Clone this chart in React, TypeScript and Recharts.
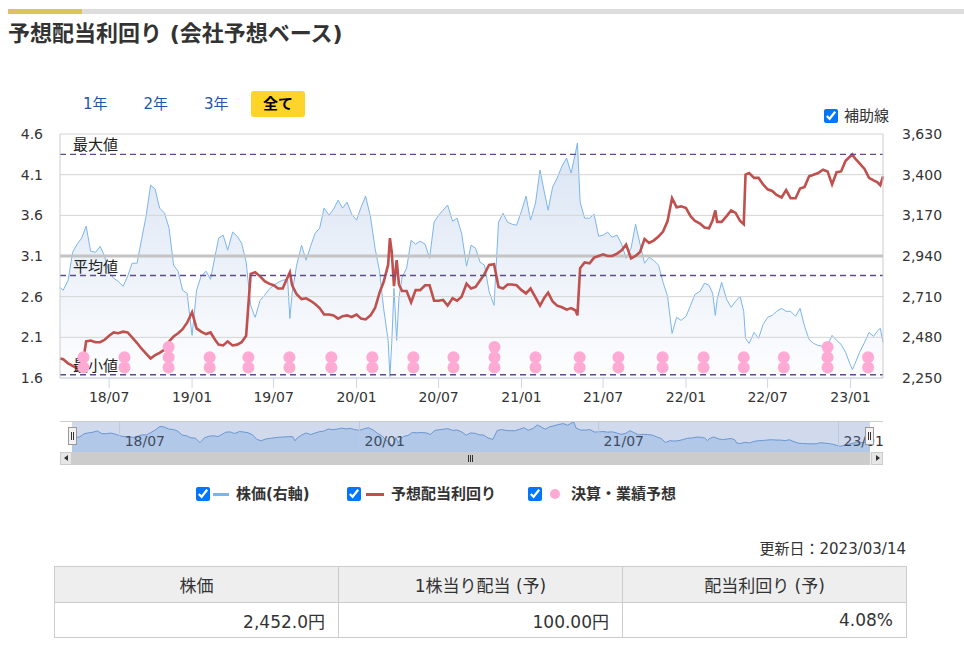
import React from "react";
import {
  ComposedChart,
  AreaChart,
  Area,
  Line,
  Scatter,
  XAxis,
  YAxis,
  ReferenceLine,
} from "recharts";

const dates = [
  "2018-03-14", "2018-03-21", "2018-04-01", "2018-04-11", "2018-04-21", "2018-05-01", "2018-05-11", "2018-05-21",
  "2018-06-01", "2018-06-11", "2018-06-21", "2018-07-01", "2018-07-11", "2018-07-21", "2018-08-01", "2018-08-11",
  "2018-08-21", "2018-09-01", "2018-09-11", "2018-09-21", "2018-10-01", "2018-10-11", "2018-10-21", "2018-11-01",
  "2018-11-11", "2018-11-21", "2018-12-01", "2018-12-11", "2018-12-21",
  "2019-01-01", "2019-01-11", "2019-01-21", "2019-02-01", "2019-02-11", "2019-02-21", "2019-03-01", "2019-03-11",
  "2019-03-21", "2019-04-01", "2019-04-11", "2019-04-21", "2019-05-01", "2019-05-11", "2019-05-21", "2019-06-01",
  "2019-06-11", "2019-06-21", "2019-07-01", "2019-07-11", "2019-07-21", "2019-08-01", "2019-08-06", "2019-08-11",
  "2019-08-21", "2019-09-01", "2019-09-11", "2019-09-21", "2019-10-01", "2019-10-11", "2019-10-21", "2019-11-01",
  "2019-11-11", "2019-11-21", "2019-12-01", "2019-12-11", "2019-12-21",
  "2020-01-01", "2020-01-11", "2020-01-21", "2020-02-01", "2020-02-11", "2020-02-21", "2020-03-01", "2020-03-11",
  "2020-03-15", "2020-03-19", "2020-03-24", "2020-03-30", "2020-04-04", "2020-04-11", "2020-04-21", "2020-05-01",
  "2020-05-11", "2020-05-21", "2020-06-01", "2020-06-11", "2020-06-21", "2020-07-01", "2020-07-11", "2020-07-21",
  "2020-08-01", "2020-08-11", "2020-08-21", "2020-09-01", "2020-09-11", "2020-09-21", "2020-10-01", "2020-10-11",
  "2020-10-21", "2020-11-01", "2020-11-11", "2020-11-21", "2020-12-01", "2020-12-11", "2020-12-21",
  "2021-01-01", "2021-01-11", "2021-01-21", "2021-02-01", "2021-02-11", "2021-02-21", "2021-03-01", "2021-03-11",
  "2021-03-21", "2021-04-01", "2021-04-11", "2021-04-21", "2021-05-01", "2021-05-05", "2021-05-11", "2021-05-21",
  "2021-06-01", "2021-06-11", "2021-06-21", "2021-07-01", "2021-07-11", "2021-07-21", "2021-08-01", "2021-08-11",
  "2021-08-21", "2021-09-01", "2021-09-11", "2021-09-21", "2021-10-01", "2021-10-11", "2021-10-21", "2021-11-01",
  "2021-11-11", "2021-11-21", "2021-12-01", "2021-12-11", "2021-12-21",
  "2022-01-01", "2022-01-11", "2022-01-21", "2022-02-01", "2022-02-11", "2022-02-21", "2022-03-01", "2022-03-07",
  "2022-03-11", "2022-03-21", "2022-04-01", "2022-04-11", "2022-04-21", "2022-05-01", "2022-05-09", "2022-05-13",
  "2022-05-21", "2022-06-01", "2022-06-11", "2022-06-21", "2022-07-01", "2022-07-11", "2022-07-21", "2022-08-01",
  "2022-08-11", "2022-08-21", "2022-09-01", "2022-09-11", "2022-09-21", "2022-10-01", "2022-10-11", "2022-10-21",
  "2022-11-01", "2022-11-11", "2022-11-21", "2022-12-01", "2022-12-11", "2022-12-21",
  "2023-01-01", "2023-01-05", "2023-01-11", "2023-01-21", "2023-02-01", "2023-02-11", "2023-02-21", "2023-03-01",
  "2023-03-08", "2023-03-14",
];

// 株価 (right axis, yen)
const price = [
  2763, 2746, 2803, 2961, 3007, 3041, 3109, 2967, 2961, 2995, 2939, 2848, 2814, 2797, 2769, 2825,
  2899, 2899, 3035, 3165, 3341, 3318, 3211, 3182, 3097, 2888, 2854, 2746, 2729,
  2491, 2746, 2825, 2854, 2808, 2939, 3041, 3058, 2973, 3075, 3052, 3012, 2905, 2661, 2593, 2689,
  2718, 2752, 2774, 2791, 2803, 2808, 2587, 2729, 2888, 3001, 2916, 2995, 3069, 3097, 3211, 3171,
  3205, 3256, 3211, 3245, 3177,
  3143, 3216, 3279, 3160, 2984, 2854, 2644, 2463, 2259, 2446, 2757, 2463, 2701, 2820, 2871, 3029,
  3007, 3024, 3007, 2927, 3131, 3171, 3199, 3228, 3137, 3154, 3069, 2882, 3001, 2984, 2905, 2888,
  2740, 2661, 3131, 3182, 3131, 3120, 3114,
  3194, 3279, 3143, 3239, 3426, 3296, 3199, 3330, 3381, 3449, 3494, 3409, 3528, 3579, 3245, 3154,
  3154, 3177, 3052, 3058, 3075, 3046, 3058, 3007, 2927, 2984, 3120, 3007, 2899, 2933, 2916, 2888,
  2791, 2712, 2502, 2593, 2576,
  2599, 2661, 2723, 2740, 2786, 2774, 2729, 2604, 2695, 2791, 2695, 2650, 2684, 2712, 2627, 2474,
  2446, 2508, 2474, 2553, 2593, 2604, 2627, 2644, 2627, 2627, 2599, 2644, 2542, 2468, 2446, 2434,
  2429, 2434, 2491, 2463, 2440, 2395,
  2321, 2298, 2332, 2395, 2451, 2508, 2485, 2514, 2531, 2452,
];

// 予想配当利回り (left axis, %)
const yieldPct = [
  1.84, 1.83, 1.78, 1.75, 1.72, 1.69, 2.05, 2.06, 2.04, 2.04, 2.07, 2.12, 2.16, 2.15, 2.17, 2.16,
  2.10, 2.03, 1.96, 1.90, 1.84, 1.88, 1.91, 1.95, 2.05, 2.11, 2.15, 2.20, 2.28,
  2.41, 2.21, 2.17, 2.14, 2.16, 2.07, 2.01, 2.00, 2.05, 2.00, 2.01, 2.04, 2.12, 2.88, 2.90, 2.85,
  2.79, 2.76, 2.74, 2.70, 2.70, 2.84, 2.90, 2.74, 2.63, 2.57, 2.58, 2.55, 2.51, 2.46, 2.38, 2.38,
  2.37, 2.33, 2.36, 2.37, 2.35,
  2.38, 2.33, 2.32, 2.37, 2.46, 2.65, 2.78, 2.99, 3.32, 3.15, 2.73, 3.05, 2.75, 2.67, 2.67, 2.53,
  2.68, 2.68, 2.74, 2.74, 2.55, 2.55, 2.56, 2.49, 2.58, 2.55, 2.60, 2.76, 2.70, 2.72, 2.80, 2.88,
  2.99, 3.00, 2.72, 2.70, 2.75, 2.75, 2.74,
  2.68, 2.64, 2.70, 2.59, 2.49, 2.59, 2.65, 2.54, 2.49, 2.47, 2.44, 2.46, 2.43, 2.37, 2.95, 3.02,
  3.01, 3.08, 3.10, 3.12, 3.10, 3.10, 3.13, 3.17, 3.24, 3.07, 3.10, 3.15, 3.31, 3.26, 3.29, 3.34,
  3.40, 3.53, 3.81, 3.70, 3.71,
  3.69, 3.59, 3.53, 3.50, 3.45, 3.44, 3.54, 3.66, 3.52, 3.52, 3.59, 3.66, 3.63, 3.53, 3.49, 4.10,
  4.12, 4.06, 4.06, 3.98, 3.92, 3.90, 3.85, 3.82, 3.91, 3.81, 3.81, 3.93, 3.95, 4.08, 4.10, 4.12,
  4.16, 4.14, 3.98, 4.13, 4.14, 4.27,
  4.33, 4.35, 4.30, 4.24, 4.17, 4.06, 4.03, 4.01, 3.97, 4.08,
];

// 決算・業績予想 events: date and number of stacked markers
const eventDates = [
  "2018-05-05", "2018-08-04", "2018-11-10", "2019-02-09", "2019-05-06", "2019-08-05", "2019-11-06",
  "2020-02-05", "2020-05-06", "2020-08-03", "2020-11-02", "2021-02-01", "2021-05-10", "2021-08-04",
  "2021-11-10", "2022-02-09", "2022-05-09", "2022-08-06", "2022-11-11", "2023-02-09",
];
const eventCounts = [2, 2, 3, 2, 2, 2, 2, 2, 2, 2, 3, 2, 2, 2, 2, 2, 2, 2, 3, 2];

// 補助線 levels (yield %)
const yieldMax = 4.35;
const yieldAvg = 2.86;
const yieldMin = 1.64;

const yieldTicks = [1.6, 2.1, 2.6, 3.1, 3.6, 4.1, 4.6];
const priceTicks = [2250, 2480, 2710, 2940, 3170, 3400, 3630];
const xTickDates = [
  "2018-07-01", "2019-01-01", "2019-07-01", "2020-01-01", "2020-07-01",
  "2021-01-01", "2021-07-01", "2022-01-01", "2022-07-01", "2023-01-01",
];
const xTickLabels = ["18/07", "19/01", "19/07", "20/01", "20/07", "21/01", "21/07", "22/01", "22/07", "23/01"];
const navTickDates = ["2018-07-01", "2020-01-01", "2021-07-01", "2023-01-01"];
const navTickLabels = ["18/07", "20/01", "21/07", "23/01"];

const rangeButtons = ["1年", "2年", "3年", "全て"];
const tableHeaders = ["株価", "1株当り配当 (予)", "配当利回り (予)"];
const tableValues = ["2,452.0円", "100.00円", "4.08%"];

const toTs = (d: string) => new Date(d + "T00:00:00Z").getTime();
const START = toTs("2018-03-14");
const END = toTs("2023-03-14");
const xTicks = xTickDates.map(toTs);
const navTicks = navTickDates.map(toTs);

const chartData = dates.map((d, i) => ({ t: toTs(d), price: price[i], yld: yieldPct[i] }));

// stacked marker rows near the bottom of the plot
const EVENT_ROWS = [1.73, 1.855, 1.98];
const eventData = eventDates.flatMap((d, i) =>
  Array.from({ length: eventCounts[i] }, (_, k) => ({ t: toTs(d), y: EVENT_ROWS[k] }))
);

const FONT = "'DejaVu Sans', 'Noto Sans CJK JP', sans-serif";
const CJK = "'Noto Sans CJK JP', sans-serif";
const RED = "#c0504d";
const BLUE = "#7cb5ec";
const PINK = "#ffaad5";

function LevelLabel(props: any) {
  const vb = props.viewBox || { x: 0, y: 0 };
  return (
    <text x={vb.x + 13} y={vb.y - 4} fill="#222" fontSize={15} fontFamily={CJK}>
      {props.text}
    </text>
  );
}

function NavLabel(props: any) {
  const vb = props.viewBox || { x: 0, y: 0 };
  return (
    <text x={vb.x + 5} y={vb.y + 25} fill="#333" fontSize={14} fontFamily={FONT}>
      {props.text}
    </text>
  );
}

const abs = (s: React.CSSProperties): React.CSSProperties => ({ position: "absolute", ...s });

export default function App() {
  return (
    <div
      style={abs({
        left: 0,
        top: 0,
        width: 964,
        height: 646,
        overflow: "hidden",
        background: "#fff",
        fontFamily: FONT,
        color: "#333",
      })}
    >
      {/* header bar + title */}
      <div style={abs({ left: 8, top: 9, width: 956, height: 5, background: "#dddddd" })} />
      <div style={abs({ left: 8, top: 9, width: 74, height: 5, background: "#e0c25c" })} />
      <div style={abs({ left: 8, top: 19, fontSize: 22, lineHeight: "30px", fontWeight: 700, color: "#333" })}>
        予想配当利回り (会社予想ベース)
      </div>

      {/* range buttons */}
      {rangeButtons.map((b, i) =>
        i < 3 ? (
          <div
            key={b}
            style={abs({ left: 83 + i * 60.5, top: 91, fontSize: 15, lineHeight: "26px", color: "#2356a8" })}
          >
            {b}
          </div>
        ) : (
          <div
            key={b}
            style={abs({
              left: 251,
              top: 91,
              width: 54,
              height: 26,
              borderRadius: 3,
              background: "#ffd42a",
              fontSize: 15,
              lineHeight: "26px",
              textAlign: "center",
              fontWeight: 700,
              color: "#000",
            })}
          >
            {b}
          </div>
        )
      )}

      {/* 補助線 */}
      <input type="checkbox" checked readOnly style={abs({ left: 824, top: 109, width: 14, height: 14, margin: 0 })} />
      <div style={abs({ left: 844, top: 106, fontSize: 15, lineHeight: "20px", color: "#333" })}>補助線</div>

      {/* main chart */}
      <div style={abs({ left: 0, top: 120 })}>
        <ComposedChart width={964} height={290} data={chartData} margin={{ top: 14, right: 0, bottom: 0, left: 0 }}>
          <defs>
            <linearGradient id="priceFill" x1="0" y1="0" x2="0" y2="1">
              <stop offset="0%" stopColor="#8eaedc" stopOpacity={0.55} />
              <stop offset="100%" stopColor="#8eaedc" stopOpacity={0.03} />
            </linearGradient>
          </defs>
          <XAxis
            dataKey="t"
            type="number"
            domain={[START, END]}
            ticks={xTicks}
            interval={0}
            tickFormatter={(v: number) => xTickLabels[xTicks.indexOf(v)] ?? ""}
            height={32}
            tickSize={10}
            tickMargin={4}
            axisLine={{ stroke: "#ccd6eb" }}
            tickLine={{ stroke: "#ccd6eb" }}
            tick={{ fill: "#333", fontSize: 14, fontFamily: FONT }}
          />
          <YAxis
            yAxisId="left"
            domain={[1.6, 4.6]}
            ticks={yieldTicks}
            interval={0}
            allowDataOverflow
            width={60}
            tickSize={0}
            tickMargin={17}
            axisLine={{ stroke: "#cccccc" }}
            tickFormatter={(v: number) => v.toFixed(1)}
            tick={{ fill: "#333", fontSize: 14, fontFamily: FONT }}
          />
          <YAxis
            yAxisId="right"
            orientation="right"
            domain={[2250, 3630]}
            ticks={priceTicks}
            interval={0}
            allowDataOverflow
            width={81}
            tickSize={0}
            tickMargin={19}
            axisLine={{ stroke: "#cccccc" }}
            tickFormatter={(v: number) => v.toLocaleString("en-US")}
            tick={{ fill: "#333", fontSize: 14, fontFamily: FONT }}
          />
          {yieldTicks.map((v) => (
            <ReferenceLine
              key={v}
              yAxisId="left"
              y={v}
              stroke={v === 3.1 ? "#c4c4c4" : "#d4d4d4"}
              strokeWidth={v === 3.1 ? 3 : 1}
            />
          ))}
          <Area
            yAxisId="right"
            dataKey="price"
            type="linear"
            stroke={BLUE}
            strokeWidth={1}
            fill="url(#priceFill)"
            dot={false}
            activeDot={false}
            isAnimationActive={false}
          />
          <Line
            yAxisId="left"
            dataKey="yld"
            type="linear"
            stroke={RED}
            strokeWidth={2.6}
            dot={false}
            activeDot={false}
            isAnimationActive={false}
          />
          <ReferenceLine yAxisId="left" y={yieldMax} stroke="#5f4b8b" strokeWidth={1.4} strokeDasharray="6 4" label={<LevelLabel text="最大値" />} />
          <ReferenceLine yAxisId="left" y={yieldAvg} stroke="#5f4b8b" strokeWidth={1.4} strokeDasharray="6 4" label={<LevelLabel text="平均値" />} />
          <ReferenceLine yAxisId="left" y={yieldMin} stroke="#5f4b8b" strokeWidth={1.4} strokeDasharray="6 4" />
          <Scatter
            yAxisId="left"
            data={eventData}
            dataKey="y"
            fill={PINK}
            isAnimationActive={false}
            shape={(p: any) => <circle cx={p.cx} cy={p.cy} r={6} fill={PINK} />}
          />
          <ReferenceLine yAxisId="left" y={yieldMin} stroke="none" label={<LevelLabel text="最小値" />} />
        </ComposedChart>
      </div>

      {/* navigator (svg made wider than its plot so the last label is not clipped) */}
      <div style={abs({ left: 72, top: 421 })}>
        <AreaChart width={820} height={31} data={chartData} margin={{ top: 0, right: 22, bottom: 0, left: 0 }}>
          <XAxis dataKey="t" type="number" domain={[START, END]} hide />
          <YAxis domain={[2000, 3630]} hide allowDataOverflow />
          {navTicks.map((t, i) => (
            <ReferenceLine key={t} x={t} stroke="#dfe5ee" label={<NavLabel text={navTickLabels[i]} />} />
          ))}
          <Area
            dataKey="price"
            type="linear"
            stroke="#6d9fd9"
            strokeWidth={1}
            fill={BLUE}
            fillOpacity={0.35}
            dot={false}
            activeDot={false}
            isAnimationActive={false}
          />
        </AreaChart>
      </div>
      <div style={abs({ left: 72, top: 421, width: 798, height: 31, background: "rgba(102,133,194,0.3)" })} />
      <div style={abs({ left: 60, top: 421, width: 823, height: 1, background: "#cccccc" })} />
      {[68, 865].map((x) => (
        <div
          key={x}
          style={abs({
            left: x,
            top: 427,
            width: 7,
            height: 16,
            background: "#f2f2f2",
            border: "1px solid #999",
          })}
        >
          <div style={abs({ left: 2, top: 4, width: 1, height: 8, background: "#333" })} />
          <div style={abs({ left: 4, top: 4, width: 1, height: 8, background: "#333" })} />
        </div>
      ))}

      {/* scrollbar */}
      <div style={abs({ left: 60, top: 452, width: 823, height: 13, background: "#f2f2f2" })} />
      <div style={abs({ left: 72, top: 452, width: 798, height: 13, background: "#cccccc" })} />
      <div style={abs({ left: 60, top: 452, width: 12, height: 13, background: "#e6e6e6", boxSizing: "border-box", border: "1px solid #cccccc" })} />
      <div style={abs({ left: 871, top: 452, width: 12, height: 13, background: "#e6e6e6", boxSizing: "border-box", border: "1px solid #cccccc" })} />
      <div style={abs({ left: 64, top: 455, width: 0, height: 0, borderTop: "3.5px solid transparent", borderBottom: "3.5px solid transparent", borderRight: "4px solid #333" })} />
      <div style={abs({ left: 876, top: 455, width: 0, height: 0, borderTop: "3.5px solid transparent", borderBottom: "3.5px solid transparent", borderLeft: "4px solid #333" })} />
      {[468, 470, 472].map((x) => (
        <div key={x} style={abs({ left: x, top: 455, width: 1, height: 7, background: "#333" })} />
      ))}

      {/* legend */}
      <input type="checkbox" checked readOnly style={abs({ left: 196, top: 487, width: 14, height: 14, margin: 0 })} />
      <div style={abs({ left: 213, top: 493, width: 16, height: 3, background: BLUE })} />
      <div style={abs({ left: 236, top: 484, fontSize: 15, lineHeight: "20px", fontWeight: 700, color: "#333" })}>株価(右軸)</div>
      <input type="checkbox" checked readOnly style={abs({ left: 347, top: 487, width: 14, height: 14, margin: 0 })} />
      <div style={abs({ left: 366, top: 493, width: 18, height: 3, background: RED })} />
      <div style={abs({ left: 391, top: 484, fontSize: 15, lineHeight: "20px", fontWeight: 700, color: "#333" })}>予想配当利回り</div>
      <input type="checkbox" checked readOnly style={abs({ left: 528, top: 487, width: 14, height: 14, margin: 0 })} />
      <div style={abs({ left: 550, top: 489, width: 10, height: 10, borderRadius: 5, background: PINK })} />
      <div style={abs({ left: 571, top: 484, fontSize: 15, lineHeight: "20px", fontWeight: 700, color: "#333" })}>決算・業績予想</div>

      {/* update date + table */}
      <div style={abs({ right: 58, top: 539, fontSize: 15, lineHeight: "20px", color: "#333" })}>更新日：2023/03/14</div>
      <table
        style={abs({
          left: 54,
          top: 566,
          width: 853,
          borderCollapse: "collapse",
          fontFamily: FONT,
          color: "#333",
        })}
      >
        <tbody>
          <tr style={{ height: 36, background: "#eeeeee" }}>
            {tableHeaders.map((h) => (
              <th
                key={h}
                style={{ border: "1px solid #cccccc", fontWeight: 400, fontSize: 17, width: "33.33%", padding: 0 }}
              >
                {h}
              </th>
            ))}
          </tr>
          <tr style={{ height: 35 }}>
            {tableValues.map((v) => (
              <td
                key={v}
                style={{ border: "1px solid #cccccc", textAlign: "right", paddingRight: 13, fontSize: 17 }}
              >
                {v}
              </td>
            ))}
          </tr>
        </tbody>
      </table>
    </div>
  );
}
